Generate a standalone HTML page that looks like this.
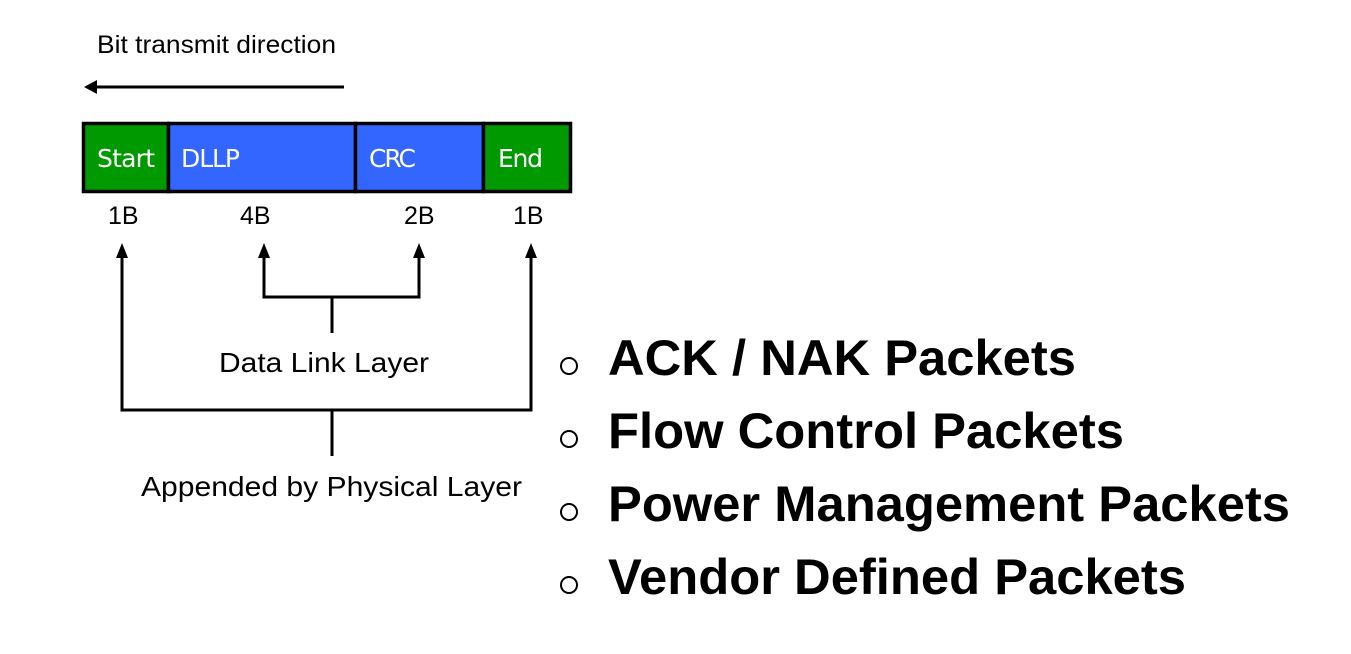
<!DOCTYPE html>
<html><head><meta charset="utf-8"><style>
body{margin:0;background:#fff;}
svg{display:block}
</style></head><body>
<svg width="1351" height="654" viewBox="0 0 1351 654" xmlns="http://www.w3.org/2000/svg" font-family="Liberation Sans, sans-serif">
<rect width="1351" height="654" fill="#fff"/>
<text x="97" y="53" font-size="25" fill="#000" textLength="239" lengthAdjust="spacingAndGlyphs">Bit transmit direction</text>
<line x1="95" y1="87" x2="344" y2="87" stroke="#000" stroke-width="3"/>
<polygon points="84,87 97,80 97,94" fill="#000"/>
<rect x="83.5" y="123.5" width="85" height="68" fill="#009900" stroke="#000" stroke-width="3.5"/>
<rect x="168.5" y="123.5" width="187" height="68" fill="#3366ff" stroke="#000" stroke-width="3.5"/>
<rect x="355.5" y="123.5" width="128" height="68" fill="#3366ff" stroke="#000" stroke-width="3.5"/>
<rect x="483.5" y="123.5" width="87" height="68" fill="#009900" stroke="#000" stroke-width="3.5"/>
<g fill="#fff" font-size="25" font-family="DejaVu Sans, Liberation Sans, sans-serif">
<text x="97" y="167" textLength="58">Start</text>
<text x="181" y="167" textLength="59">DLLP</text>
<text x="369" y="167" textLength="47">CRC</text>
<text x="498" y="167" textLength="45">End</text>
</g>
<g font-size="25" fill="#000">
<text x="108" y="224">1B</text>
<text x="240" y="224">4B</text>
<text x="404" y="224">2B</text>
<text x="513" y="224">1B</text>
</g>
<g stroke="#000" stroke-width="3" fill="none">
<polyline points="264,256 264,297 419,297 419,256"/>
<line x1="332" y1="297" x2="332" y2="333"/>
<polyline points="122,256 122,410 531,410 531,256"/>
<line x1="332" y1="410" x2="332" y2="456"/>
</g>
<g fill="#000">
<polygon points="264,243 258,258 270,258"/>
<polygon points="419,243 413,258 425,258"/>
<polygon points="122,243 116,258 128,258"/>
<polygon points="531,243 525,258 537,258"/>
</g>
<text x="219" y="372" font-size="28" fill="#000" textLength="210" lengthAdjust="spacingAndGlyphs">Data Link Layer</text>
<text x="141" y="496" font-size="28" fill="#000" textLength="381" lengthAdjust="spacingAndGlyphs">Appended by Physical Layer</text>
<g fill="none" stroke="#000" stroke-width="2">
<circle cx="569" cy="366" r="8"/>
<circle cx="569" cy="439" r="8"/>
<circle cx="569" cy="512" r="8"/>
<circle cx="569" cy="585" r="8"/>
</g>
<g font-size="50" font-weight="bold" fill="#000" lengthAdjust="spacingAndGlyphs">
<text x="608" y="375" textLength="468" lengthAdjust="spacingAndGlyphs">ACK / NAK Packets</text>
<text x="608" y="448" textLength="516" lengthAdjust="spacingAndGlyphs">Flow Control Packets</text>
<text x="608" y="521" textLength="682" lengthAdjust="spacingAndGlyphs">Power Management Packets</text>
<text x="608" y="594" textLength="578" lengthAdjust="spacingAndGlyphs">Vendor Defined Packets</text>
</g>
</svg>
</body></html>
